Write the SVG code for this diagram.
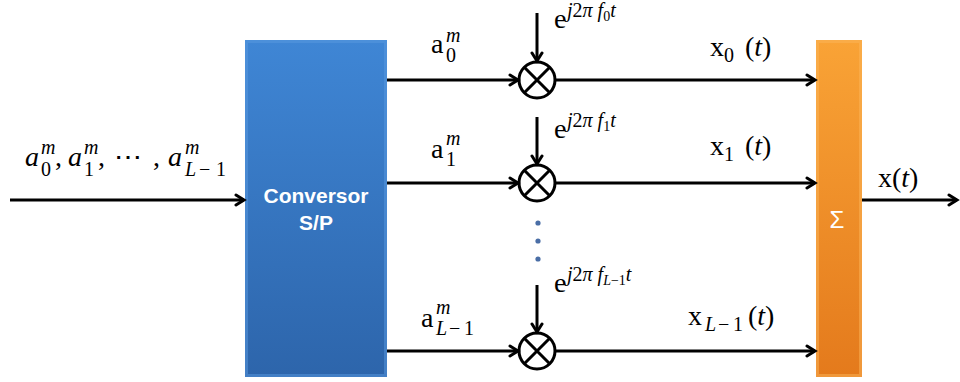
<svg xmlns="http://www.w3.org/2000/svg" width="960" height="382" viewBox="0 0 960 382">
<defs>
<linearGradient id="gBlue" x1="0" y1="0" x2="0" y2="1">
<stop offset="0" stop-color="#3f86d5"/>
<stop offset="1" stop-color="#2d65ab"/>
</linearGradient>
<linearGradient id="gOrange" x1="0" y1="0" x2="0" y2="1">
<stop offset="0" stop-color="#f9a336"/>
<stop offset="1" stop-color="#e47a1c"/>
</linearGradient>
<marker id="arr" markerUnits="userSpaceOnUse" markerWidth="14" markerHeight="14" refX="11" refY="7" orient="auto">
<path d="M3,2 L11,7 L3,12" fill="none" stroke="#000" stroke-width="3" stroke-linejoin="miter" stroke-linecap="round"/>
</marker>
<style>
.ln{stroke:#000;stroke-width:3;fill:none}
.m{font-family:"Liberation Serif",serif;font-size:28px;fill:#000}
.s{font-size:20px}
.ss{font-size:14px}
.i{font-style:italic}
.lbl{font-family:"Liberation Sans",Arial,sans-serif;fill:#fff}
.mul{fill:#fff;stroke:#000;stroke-width:3}
</style>
</defs>
<g id="conversor">
<rect x="245" y="40" width="142" height="337" fill="url(#gBlue)"/>
<rect x="246.5" y="41.5" width="139" height="334" fill="none" stroke="#5a9ae0" stroke-opacity="0.5" stroke-width="3"/>
<text class="lbl" font-weight="bold" font-size="21" text-anchor="middle"><tspan x="316" y="203">Conversor</tspan><tspan x="316" y="230">S/P</tspan></text>
</g>
<g id="sum">
<rect x="816" y="40" width="46" height="337" fill="url(#gOrange)"/>
<rect x="817.5" y="41.5" width="43" height="334" fill="none" stroke="#fbb55a" stroke-opacity="0.5" stroke-width="3"/>
<text class="lbl" font-size="24" x="837" y="228" text-anchor="middle">Σ</text>
</g>
<g id="mult0">
<circle class="mul" cx="537" cy="80" r="18"/>
<path class="ln" d="M524.3,67.3 L549.7,92.7 M549.7,67.3 L524.3,92.7"/>
</g>
<g id="mult1">
<circle class="mul" cx="537" cy="183" r="18"/>
<path class="ln" d="M524.3,170.3 L549.7,195.7 M549.7,170.3 L524.3,195.7"/>
</g>
<g id="multL">
<circle class="mul" cx="537" cy="351" r="18"/>
<path class="ln" d="M524.3,338.3 L549.7,363.7 M549.7,338.3 L524.3,363.7"/>
</g>
<g id="dots" fill="#4a6ea6">
<circle cx="538" cy="223" r="2.6"/>
<circle cx="538" cy="241" r="2.6"/>
<circle cx="538" cy="259" r="2.6"/>
</g>
<g id="connectors">
<line class="ln" x1="10" y1="200" x2="244" y2="200" marker-end="url(#arr)"/>
<line class="ln" x1="387" y1="80" x2="518" y2="80" marker-end="url(#arr)"/>
<line class="ln" x1="387" y1="183" x2="518" y2="183" marker-end="url(#arr)"/>
<line class="ln" x1="387" y1="351" x2="518" y2="351" marker-end="url(#arr)"/>
<line class="ln" x1="537" y1="13" x2="537" y2="61" marker-end="url(#arr)"/>
<line class="ln" x1="537" y1="117" x2="537" y2="164" marker-end="url(#arr)"/>
<line class="ln" x1="537" y1="285" x2="537" y2="332" marker-end="url(#arr)"/>
<line class="ln" x1="555" y1="80" x2="815" y2="80" marker-end="url(#arr)"/>
<line class="ln" x1="555" y1="183" x2="815" y2="183" marker-end="url(#arr)"/>
<line class="ln" x1="555" y1="351" x2="815" y2="351" marker-end="url(#arr)"/>
<line class="ln" x1="862" y1="200" x2="957" y2="200" marker-end="url(#arr)"/>
</g>
<g id="labels">
<text class="m"><tspan class="i" x="25" y="166">a</tspan><tspan class="s i" x="41" y="154">m</tspan><tspan class="s" x="41" y="176">0</tspan><tspan x="55" y="166">,</tspan><tspan class="i" x="68" y="166">a</tspan><tspan class="s i" x="84" y="154">m</tspan><tspan class="s" x="84" y="176">1</tspan><tspan x="98" y="166">,</tspan><tspan x="114" y="166">⋯</tspan><tspan x="153" y="166">,</tspan><tspan class="i" x="168" y="166">a</tspan><tspan class="s i" x="185" y="154">m</tspan><tspan class="s i" x="185" y="176">L</tspan><tspan class="s" x="199" y="176">−</tspan><tspan class="s" x="216" y="176">1</tspan></text>

<text class="m"><tspan x="431" y="53">a</tspan><tspan class="s i" x="446" y="42">m</tspan><tspan class="s" x="446" y="62">0</tspan></text>
<text class="m"><tspan x="431" y="158">a</tspan><tspan class="s i" x="446" y="145">m</tspan><tspan class="s" x="446" y="166">1</tspan></text>
<text class="m"><tspan x="421" y="327">a</tspan><tspan class="s i" x="436" y="314">m</tspan><tspan class="s i" x="436" y="335">L</tspan><tspan class="s" x="449" y="335">−</tspan><tspan class="s" x="464" y="335">1</tspan></text>

<text class="m"><tspan x="554" y="28">e</tspan><tspan class="s i" x="567" y="17">j</tspan><tspan class="s" y="17">2</tspan><tspan class="s i" y="17">π f</tspan><tspan class="ss" y="21">0</tspan><tspan class="s i" y="17">t</tspan></text>
<text class="m"><tspan x="554" y="138">e</tspan><tspan class="s i" x="567" y="127">j</tspan><tspan class="s" y="127">2</tspan><tspan class="s i" y="127">π f</tspan><tspan class="ss" y="131">1</tspan><tspan class="s i" y="127">t</tspan></text>
<text class="m"><tspan x="554" y="292">e</tspan><tspan class="s i" x="567" y="281">j</tspan><tspan class="s" y="281">2</tspan><tspan class="s i" y="281">π f</tspan><tspan class="ss i" y="285">L</tspan><tspan class="ss" y="285">−1</tspan><tspan class="s i" y="281">t</tspan></text>

<text class="m"><tspan x="710" y="56">x</tspan><tspan class="s" y="62">0</tspan><tspan x="745" y="56">(</tspan><tspan class="i">t</tspan><tspan>)</tspan></text>
<text class="m"><tspan x="710" y="155">x</tspan><tspan class="s" y="161">1</tspan><tspan x="745" y="155">(</tspan><tspan class="i">t</tspan><tspan>)</tspan></text>
<text class="m"><tspan x="688" y="325">x</tspan><tspan class="s i" x="705" y="331">L</tspan><tspan class="s" x="718" y="331">−</tspan><tspan class="s" x="733" y="331">1</tspan><tspan x="748" y="325">(</tspan><tspan class="i">t</tspan><tspan>)</tspan></text>
<text class="m"><tspan x="878" y="187">x(</tspan><tspan class="i">t</tspan><tspan>)</tspan></text>
</g>
</svg>
